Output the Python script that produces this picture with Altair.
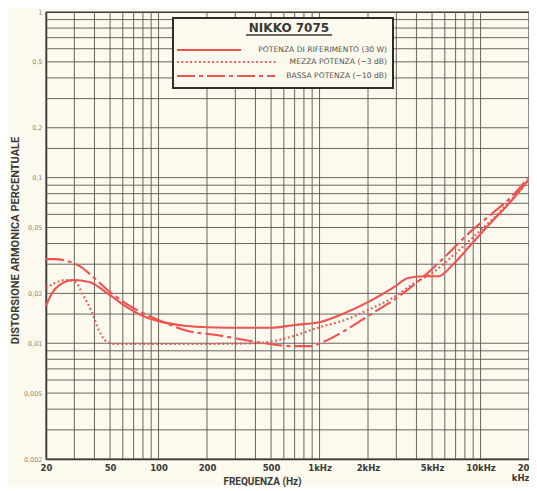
import altair as alt
import pandas as pd

# ---------------- data ----------------
solid_f = [20, 21.8, 24.3, 29.6, 37, 50, 65, 86, 100, 150, 200, 350, 500, 700, 1000,
           1430, 2000, 2900, 3550, 4400, 5500, 6700, 8900, 11700, 15500, 19700]
solid_v = [0.0168, 0.0201, 0.0225, 0.0241, 0.0234, 0.0195, 0.0163, 0.0142, 0.0136, 0.0127,
           0.0125, 0.0124, 0.0124, 0.0129, 0.0134, 0.0152, 0.0177, 0.0218, 0.0248, 0.0254,
           0.0254, 0.0297, 0.0403, 0.054, 0.0722, 0.0967]

dot_f = [20, 22.7, 26.5, 30.5, 34, 38, 42.7, 47.8, 53, 100, 200, 400, 615, 1000, 1430,
         2000, 2900, 3800, 5000, 6700, 8900, 11700, 15500, 19700]
dot_v = [0.0215, 0.0231, 0.0241, 0.0234, 0.0195, 0.0159, 0.0119, 0.0102, 0.0099, 0.0099,
         0.0099, 0.0100, 0.0107, 0.0125, 0.0138, 0.0159, 0.0190, 0.0228, 0.0265, 0.0336,
         0.0432, 0.0555, 0.0732, 0.094]

dash_f = [20, 22.7, 27, 32.2, 39.8, 50, 65, 78, 100, 150, 230, 400, 700, 870, 1080, 1430,
          2180, 3000, 4400, 5800, 8500, 11700, 15500, 19700]
dash_v = [0.0322, 0.0322, 0.0314, 0.0293, 0.0248, 0.0204, 0.017, 0.0154, 0.0138, 0.0119,
          0.0112, 0.0102, 0.0096, 0.0096, 0.0103, 0.0119, 0.0154, 0.0187, 0.0251, 0.0322,
          0.0464, 0.0603, 0.0763, 0.0994]

x_ticks = [20, 50, 100, 200, 500, 1000, 2000, 5000, 10000, 20000]
x_labels = ["20", "50", "100", "200", "500", "1kHz", "2kHz", "5kHz", "10kHz", "20|kHz"]
y_ticks = [0.002, 0.005, 0.01, 0.02, 0.05, 0.1, 0.2, 0.5, 1]
y_labels = ["0,002", "0,005", "0,01", "0,02", "0,05", "0,1", "0,2", "0,5", "1"]

x_grid = [20, 30, 40, 50, 60, 70, 80, 90, 100, 200, 300, 400, 500, 600, 700, 800, 900,
          1000, 2000, 3000, 4000, 5000, 6000, 7000, 8000, 9000, 10000, 20000]
y_grid = [0.002, 0.003, 0.004, 0.005, 0.006, 0.007, 0.008, 0.009, 0.01, 0.015, 0.02,
          0.03, 0.04, 0.05, 0.06, 0.07, 0.08, 0.09, 0.1, 0.15, 0.2, 0.3, 0.4, 0.5, 0.6,
          0.7, 0.8, 0.9, 1]

legend_title = "NIKKO 7075"
legend_names = ["POTENZA DI RIFERIMENTO (30 W)", "MEZZA POTENZA (\u22123 dB)",
                "BASSA POTENZA (\u221210 dB)"]

# ---------------- styling ----------------
BG = "#fcf9ee"
GRID = "#5a564e"
RED = "#ef5350"
INK = "#3a3835"
NARROW = "Liberation Sans Narrow, Roboto, sans-serif"

W, H = 483, 447


def make_expr(ticks, labels):
    expr = "''"
    for t, l in zip(reversed(ticks), reversed(labels)):
        if "|" in l:
            parts = l.split("|")
            lab = "[" + ",".join("'" + p + "'" for p in parts) + "]"
        else:
            lab = "'" + l + "'"
        expr = f"datum.value == {t} ? {lab} : ({expr})"
    return expr


x_scale = alt.Scale(type="log", domain=[20, 20000], nice=False)
y_scale = alt.Scale(type="log", domain=[0.002, 1], nice=False)

x_axis = alt.Axis(values=x_ticks, labelExpr=make_expr(x_ticks, x_labels), grid=False,
                  ticks=False, domain=True, domainColor="#2f2d2a", domainWidth=1.5,
                  labelFont="DejaVu Sans", labelFontSize=8.5, labelFontWeight="bold",
                  labelColor=INK, labelPadding=4, labelFlush=False, labelOverlap=False,
                  labelBound=False, labelLineHeight=10,
                  labelAlign={"condition": {"test": "datum.value >= 20000", "value": "right"},
                              "value": "center"},
                  title="FREQUENZA (Hz)", titleFont=NARROW, titleFontSize=10,
                  titleFontWeight="bold", titleColor=INK, titleX=216, titleY=22,
                  titleAlign="center", titleBaseline="middle", titleAnchor="start")
y_axis = alt.Axis(values=y_ticks, labelExpr=make_expr(y_ticks, y_labels), grid=False,
                  ticks=False, domain=True, domainColor="#2f2d2a", domainWidth=1.5,
                  labelFont="DejaVu Sans", labelFontSize=6.5, labelColor="#8d8a80",
                  labelPadding=4, labelFlush=False, labelOverlap=False, labelBound=False,
                  title="DISTORSIONE ARMONICA PERCENTUALE", titleFont=NARROW,
                  titleFontSize=11, titleFontWeight="bold", titleColor=INK,
                  titleX=-31, titleY=228, titleAngle=270, titleAlign="center",
                  titleBaseline="middle", titleAnchor="start")

X = lambda f: alt.X(f, type="quantitative", scale=x_scale, axis=x_axis)
Y = lambda f: alt.Y(f, type="quantitative", scale=y_scale, axis=y_axis)

vgrid = alt.Chart(pd.DataFrame({"f": x_grid})).mark_rule(
    color=GRID, strokeWidth=0.9).encode(x=X("f"))
hgrid = alt.Chart(pd.DataFrame({"v": y_grid})).mark_rule(
    color=GRID, strokeWidth=0.9).encode(y=Y("v"))


def curve(fs, vs, dash=None):
    kw = dict(color=RED, strokeWidth=2.1, interpolate="monotone", clip=True)
    if dash:
        kw["strokeDash"] = dash
    return alt.Chart(pd.DataFrame({"f": fs, "v": vs})).mark_line(**kw).encode(
        x=X("f"), y=Y("v"))


DOT = [1.8, 2.6]
DASHDOT = [18, 4, 4, 4]

c_solid = curve(solid_f, solid_v)
c_dot = curve(dot_f, dot_v, DOT)
c_dash = curve(dash_f, dash_v, DASHDOT)

# ---------------- legend box ----------------
box = alt.Chart(pd.DataFrame({"a": [0]})).mark_rect(
    fill=BG, stroke="#2f2d2a", strokeWidth=2).encode(
    x=alt.value(127), x2=alt.value(347), y=alt.value(6), y2=alt.value(76))
ttl = alt.Chart(pd.DataFrame({"t": [legend_title]})).mark_text(
    font="DejaVu Sans", fontSize=12, fontWeight="bold", color=INK, align="center",
    baseline="middle").encode(x=alt.value(243), y=alt.value(16), text="t:N")
uline = alt.Chart(pd.DataFrame({"a": [0]})).mark_rule(color=INK, strokeWidth=1.3).encode(
    x=alt.value(200), x2=alt.value(286), y=alt.value(23))

leg_y = [38, 50, 64]
leg_x2 = [195, 231, 229]
leg_dash = [None, DOT, DASHDOT]
legend_layers = []
for name, yy, x2, d in zip(legend_names, leg_y, leg_x2, leg_dash):
    kw = dict(color=RED, strokeWidth=2)
    if d:
        kw["strokeDash"] = d
    legend_layers.append(
        alt.Chart(pd.DataFrame({"a": [0]})).mark_rule(**kw).encode(
            x=alt.value(131), x2=alt.value(x2), y=alt.value(yy)))
    legend_layers.append(
        alt.Chart(pd.DataFrame({"t": [name]})).mark_text(
            font="DejaVu Sans", fontSize=7.6, color="#55524c", align="right",
            baseline="middle").encode(x=alt.value(341), y=alt.value(yy), text="t:N"))

chart = alt.layer(
    vgrid, hgrid, c_dash, c_dot, c_solid, box, ttl, uline, *legend_layers
).properties(
    width=W, height=H, background=BG,
    padding={"left": 38, "top": 4, "right": 0, "bottom": 28},
    autosize=alt.AutoSizeParams(type="none"),
).configure_view(stroke="#2f2d2a", strokeWidth=1.2)

chart.save("out.html", embed_options={"renderer": "svg", "actions": False})
